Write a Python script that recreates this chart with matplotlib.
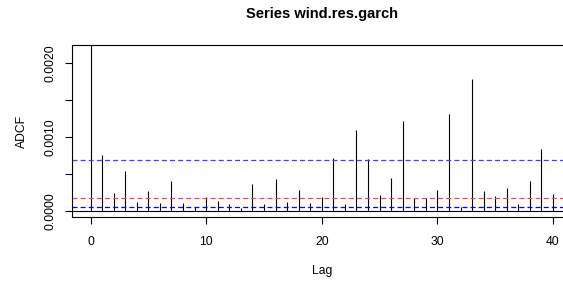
import numpy as np
import matplotlib.pyplot as plt
import matplotlib as mpl

mpl.rcParams["font.family"] = ["Liberation Sans", "DejaVu Sans"]

# values
lags = np.arange(0, 41)
adcf = [0.002246, 0.00076, 0.00024, 0.00054, 0.00012, 0.00027, 0.00010, 0.00040,
        0.00010, 0.00005, 0.00018, 0.000135, 0.00009, 0.00004, 0.000357, 0.000086,
        0.000428, 0.000113, 0.00028, 0.00010, 0.000185, 0.000708, 0.00009, 0.001095,
        0.000699, 0.000212, 0.000442, 0.001222, 0.000176, 0.000167, 0.000275, 0.001307,
        0.000046, 0.001789, 0.00027, 0.000199, 0.000311, 0.000086, 0.000405, 0.000834,
        0.00023]
blue_upper = 0.00068
red_level = 0.000176
blue_lower = 0.00005
yticks = [0.0, 0.0005, 0.0010, 0.0015, 0.0020]
ytick_labels = ["0.0000", "", "0.0010", "", "0.0020"]
xticks = [0, 10, 20, 30, 40]

fig = plt.figure(figsize=(5.63, 2.82), dpi=100)
ax = fig.add_axes([72/563, 1 - 217/282, (571.5 - 72)/563, (217 - 45)/282])

ax.vlines(lags, 0, adcf, color="black", lw=0.8)
ax.axhline(0, color="black", lw=0.8)
ax.axhline(blue_upper, color="#4040ff", lw=0.9, dashes=(4, 2.5))
ax.axhline(red_level, color="#f04858", lw=0.9, dashes=(4, 2.5))
ax.axhline(blue_lower, color="#0000ee", lw=0.9, dashes=(4, 2.5))

ax.set_xlim(-1.6, 41.6)
ax.set_ylim(-0.0000864, 0.002246)
ax.set_xticks(xticks)
ax.set_yticks(yticks)
ax.set_yticklabels(ytick_labels, rotation=90, va="center")
ax.tick_params(direction="out", length=5, width=0.8, labelsize=8.7, color="black")
ax.tick_params(axis="x", pad=9)
ax.tick_params(axis="y", pad=6)
for s in ax.spines.values():
    s.set_linewidth(0.8)

ax.set_xlabel("Lag", fontsize=8.7, labelpad=12)
ax.set_ylabel("ADCF", fontsize=8.7, labelpad=12)
fig.text(322/563, 1 - 14/282, "Series wind.res.garch", ha="center", va="center",
         fontsize=10.5, fontweight="bold")

fig.savefig("out.png", dpi=100)
